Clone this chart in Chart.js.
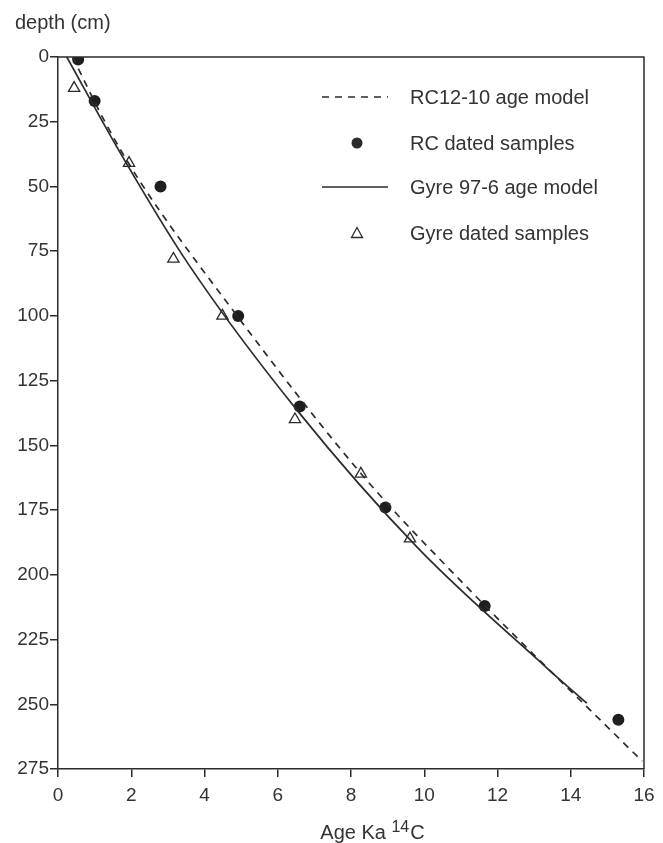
<!DOCTYPE html>
<html>
<head>
<meta charset="utf-8">
<title>Age model</title>
<script src="https://cdn.jsdelivr.net/npm/chart.js"></script>
<style>
  html, body { margin: 0; padding: 0; background: #fff; }
  #wrap { position: relative; width: 663px; height: 843px; }
</style>
</head>
<body>
<div id="wrap"><canvas id="chart" width="663" height="843"></canvas></div>
<script>
// RC12-10 age model (dashed)
const rcModelAge   = [0.4, 1.28, 2.19, 4.7, 8.34, 11.25, 15.95];
const rcModelDepth = [0, 25, 47, 96.4, 162, 206, 272];

// RC dated samples (filled circles)
const rcAge   = [0.55, 1.0, 2.8, 4.92, 6.6, 8.94, 11.65, 15.3];
const rcDepth = [1, 17, 50, 100, 135, 174, 212, 256];

// Gyre 97-6 age model (solid)
const gyreModelAge   = [0.24, 1.74, 3.56, 6.52, 9.85, 13.35, 14.44];
const gyreModelDepth = [0, 38, 80, 136.3, 190, 236, 249.6];

// Gyre dated samples (open triangles)
const gyreAge   = [0.44, 1.94, 3.15, 4.49, 6.47, 8.27, 9.61];
const gyreDepth = [12, 41, 78, 100, 140, 161, 186];

const seriesLabels = ['RC12-10 age model', 'RC dated samples', 'Gyre 97-6 age model', 'Gyre dated samples'];
const xTitleParts = ['Age Ka ', '14', 'C'];
const yTitle = 'depth (cm)';

const ink = '#2b2b2b';
const textCol = '#333';
const font = 'Liberation Sans, Arial, Helvetica, sans-serif';
const dash = [7, 6];

const pts = (xs, ys) => xs.map((x, i) => ({ x, y: ys[i] }));

// frame, axis titles and the legend inside the plot
const extras = {
  id: 'extras',
  afterDraw(chart) {
    const { ctx, chartArea: a } = chart;
    ctx.save();
    ctx.strokeStyle = ink;
    ctx.lineWidth = 1.5;
    ctx.beginPath();
    ctx.moveTo(a.left, a.top);
    ctx.lineTo(a.right, a.top);
    ctx.lineTo(a.right, a.bottom);
    ctx.stroke();

    ctx.fillStyle = textCol;
    ctx.textBaseline = 'alphabetic';
    ctx.textAlign = 'left';
    ctx.font = '20px ' + font;
    ctx.fillText(yTitle, 15, 29);

    // x title with raised 14
    const big = '20px ' + font, small = '16px ' + font;
    ctx.font = big;
    const w0 = ctx.measureText(xTitleParts[0]).width;
    const w2 = ctx.measureText(xTitleParts[2]).width;
    ctx.font = small;
    const w1 = ctx.measureText(xTitleParts[1]).width;
    let x = 372 - (w0 + w1 + w2) / 2;
    const base = 839;
    ctx.font = big;
    ctx.fillText(xTitleParts[0], x, base);
    x += w0;
    ctx.font = small;
    ctx.fillText(xTitleParts[1], x, base - 7);
    x += w1 + 1;
    ctx.font = big;
    ctx.fillText(xTitleParts[2], x, base);

    // legend
    const rows = [97, 143, 187, 233];
    const x0 = 322, x1 = 388, xm = 357, tx = 410;
    ctx.font = '20px ' + font;
    ctx.textBaseline = 'middle';
    rows.forEach((y, i) => {
      ctx.strokeStyle = ink;
      ctx.fillStyle = ink;
      ctx.lineWidth = 1.6;
      if (i === 0 || i === 2) {
        ctx.setLineDash(i === 0 ? dash : []);
        ctx.beginPath();
        ctx.moveTo(x0, y);
        ctx.lineTo(x1, y);
        ctx.stroke();
        ctx.setLineDash([]);
      } else if (i === 1) {
        ctx.beginPath();
        ctx.arc(xm, y, 5.5, 0, Math.PI * 2);
        ctx.fill();
      } else {
        ctx.lineWidth = 1.3;
        ctx.beginPath();
        ctx.moveTo(xm, y - 5.5);
        ctx.lineTo(xm + 5.5, y + 4.5);
        ctx.lineTo(xm - 5.5, y + 4.5);
        ctx.closePath();
        ctx.stroke();
      }
      ctx.fillStyle = textCol;
      ctx.fillText(seriesLabels[i], tx, y + 1);
    });
    ctx.restore();
  }
};

new Chart(document.getElementById('chart'), {
  type: 'scatter',
  data: {
    datasets: [
      {
        label: seriesLabels[0],
        type: 'line',
        data: pts(rcModelAge, rcModelDepth),
        borderColor: ink,
        borderWidth: 1.7,
        borderDash: dash,
        pointRadius: 0,
        cubicInterpolationMode: 'monotone',
        fill: false
      },
      {
        label: seriesLabels[2],
        type: 'line',
        data: pts(gyreModelAge, gyreModelDepth),
        borderColor: ink,
        borderWidth: 1.7,
        pointRadius: 0,
        cubicInterpolationMode: 'monotone',
        fill: false
      },
      {
        label: seriesLabels[1],
        data: pts(rcAge, rcDepth),
        pointStyle: 'circle',
        pointRadius: 6,
        backgroundColor: '#1e1e1e',
        borderColor: '#1e1e1e',
        borderWidth: 0
      },
      {
        label: seriesLabels[3],
        data: pts(gyreAge, gyreDepth),
        pointStyle: 'triangle',
        pointRadius: 6.5,
        backgroundColor: '#fff',
        borderColor: ink,
        borderWidth: 1.3
      }
    ]
  },
  options: {
    responsive: false,
    animation: false,
    layout: { padding: { top: 57, right: 19, left: 0, bottom: 0 } },
    plugins: { legend: { display: false }, tooltip: { enabled: false } },
    scales: {
      x: {
        type: 'linear',
        min: 0, max: 16,
        ticks: { stepSize: 2, color: textCol, font: { size: 19, family: font }, padding: 7, maxRotation: 0 },
        grid: { drawOnChartArea: false, drawTicks: true, tickLength: 8, color: ink, lineWidth: 1.5 },
        border: { color: ink, width: 1.5 },
        afterFit(s) { s.height = 843 - 769; }
      },
      y: {
        type: 'linear',
        reverse: true,
        min: 0, max: 275,
        ticks: { stepSize: 25, color: textCol, font: { size: 19, family: font }, padding: 1 },
        grid: { drawOnChartArea: false, drawTicks: true, tickLength: 8, color: ink, lineWidth: 1.5 },
        border: { color: ink, width: 1.5 },
        afterFit(s) { s.width = 58; }
      }
    }
  },
  plugins: [extras]
});
</script>
</body>
</html>
